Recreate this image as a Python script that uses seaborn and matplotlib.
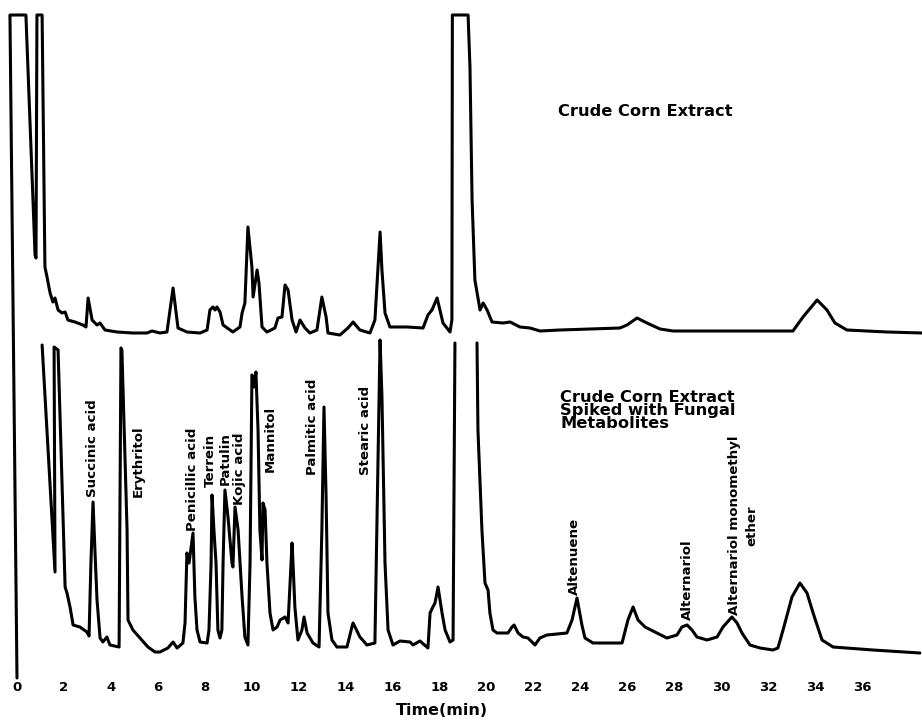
import numpy as np
import pandas as pd
import matplotlib
matplotlib.use("Agg")
import matplotlib.pyplot as plt
import seaborn as sns

# Retention time (min) and detector response (arbitrary units, above each trace's baseline)
# Crude corn extract
top_time = [0.00, -0.30, 0.38, 0.77, 0.81, 0.85, 1.07, 1.19, 1.28, 1.41, 1.53, 1.62, 1.75,
            1.92, 2.05, 2.17, 2.47, 2.81, 2.94, 3.03, 3.20, 3.41, 3.54, 3.75, 4.26, 4.94,
            5.54, 5.75, 6.09, 6.39, 6.65, 6.86, 7.24, 7.80, 8.10, 8.22, 8.35, 8.44, 8.52,
            8.65, 8.78, 9.20, 9.50, 9.59, 9.71, 9.84, 10.01, 10.06, 10.23, 10.31, 10.44,
            10.65, 10.99, 11.12, 11.29, 11.42, 11.55, 11.72, 11.89, 12.06, 12.27, 12.48,
            12.78, 12.99, 13.17, 13.25, 13.76, 14.10, 14.32, 14.61, 15.04, 15.25, 15.47,
            15.55, 15.68, 15.89, 16.62, 17.30, 17.51, 17.68, 17.90, 18.02, 18.15, 18.45,
            18.53, 18.55, 19.22, 19.30, 19.39, 19.51, 19.73, 19.86, 20.03, 20.24, 20.71,
            21.01, 21.43, 21.86, 22.28, 23.14, 25.69, 25.99, 26.42, 26.84, 27.40, 27.95,
            29.95, 33.06, 33.49, 34.09, 34.51, 34.85, 35.36, 37.07, 38.56]
top_resp = [-345, 318, 318, 78, 75, 318, 318, 66, 56, 40, 31, 35, 23,
            20, 21, 13, 11, 8, 6, 35, 13, 8, 10, 3, 1, 0,
            0, 2, 0, 1, 45, 5, 1, 0, 3, 23, 26, 23, 26,
            21, 8, 1, 6, 20, 30, 106, 66, 36, 63, 50, 6,
            1, 5, 15, 16, 48, 43, 13, 1, 13, 5, 0,
            3, 36, 16, 0, -2, 5, 11, 3, 0, 13, 101,
            63, 20, 6, 6, 5, 18, 23, 35, 23, 10, 1,
            13, 318, 318, 266, 133, 53, 23, 30, 23, 11, 10,
            11, 6, 5, 2, 3, 5, 8, 15, 10, 4, 2,
            2, 2, 16, 33, 23, 10, 3, 1, 0]

# Crude corn extract spiked with fungal metabolites (pen off scale during the solvent peak)
spiked_time_a = [1.07, 1.62, 1.58, 1.75, 2.05, 2.13, 2.26, 2.39, 2.68, 2.98, 3.07, 3.15,
                 3.24, 3.32, 3.41, 3.54, 3.66, 3.83, 3.96, 4.35, 4.43, 4.47, 4.69, 4.73,
                 4.94, 5.24, 5.58, 5.88, 6.09, 6.43, 6.65, 6.82, 7.07, 7.16, 7.24, 7.33,
                 7.50, 7.58, 7.67, 7.80, 8.10, 8.18, 8.27, 8.31, 8.39, 8.48, 8.56, 8.65,
                 8.73, 8.78, 8.86, 8.99, 9.16, 9.20, 9.29, 9.42, 9.59, 9.71, 9.84, 9.93,
                 10.01, 10.06, 10.10, 10.18, 10.27, 10.35, 10.44, 10.48, 10.57, 10.65,
                 10.78, 10.91, 11.08, 11.21, 11.42, 11.55, 11.72, 11.76, 11.84, 11.97,
                 12.14, 12.23, 12.36, 12.61, 12.87, 12.99, 13.08, 13.17, 13.25, 13.42,
                 13.63, 14.06, 14.27, 14.32, 14.61, 14.91, 15.25, 15.38, 15.47, 15.55,
                 15.68, 15.81, 16.02, 16.32, 16.75, 16.87, 17.17, 17.51, 17.60, 17.72,
                 17.81, 17.94, 18.11, 18.24, 18.45, 18.58, 18.66]
spiked_resp_a = [305, 78, 303, 300, 63, 57, 43, 25, 23, 18, 14, 87,
                 148, 100, 50, 12, 8, 13, 5, 3, 302, 300, 120, 30,
                 20, 12, 3, -2, -2, 2, 8, 2, 7, 27, 97, 87,
                 117, 53, 20, 8, 7, 20, 87, 155, 120, 87, 20, 12,
                 20, 87, 160, 133, 87, 83, 143, 120, 53, 13, 5, 87,
                 275, 273, 263, 278, 220, 120, 90, 147, 140, 87,
                 37, 20, 23, 30, 33, 27, 107, 87, 43, 10,
                 20, 33, 17, 7, 3, 120, 243, 153, 37, 10,
                 3, 3, 23, 27, 13, 5, 7, 187, 310, 253,
                 87, 20, 5, 9, 8, 5, 9, 2, 37, 43,
                 47, 63, 37, 20, 8, 10, 307]
spiked_time_b = [19.60, 19.64, 19.81, 19.94, 20.07, 20.15, 20.28, 20.45, 20.92, 21.09,
                 21.18, 21.35, 21.56, 21.77, 22.07, 22.28, 22.58, 23.43, 23.65, 23.86,
                 24.07, 24.20, 24.54, 25.78, 26.03, 26.25, 26.46, 26.76, 27.18, 27.69,
                 28.12, 28.33, 28.55, 28.76, 28.97, 29.40, 29.83, 30.08, 30.46, 30.68,
                 30.89, 31.23, 31.66, 32.21, 32.42, 32.64, 33.02, 33.36, 33.66, 33.92,
                 34.30, 34.77, 36.47, 38.47]
spiked_resp_b = [307, 220, 120, 67, 60, 37, 20, 17, 17, 23,
                 25, 17, 13, 12, 5, 12, 15, 17, 30, 52,
                 25, 12, 7, 7, 30, 43, 30, 23, 18, 12,
                 15, 23, 25, 20, 13, 10, 13, 23, 33, 27,
                 17, 5, 2, 0, 2, 20, 53, 67, 57, 37,
                 10, 3, 0, -3]

compound_names = ["Succinic acid", "Erythritol", "Penicillic acid", "Terrein", "Patulin",
                  "Kojic acid", "Mannitol", "Palmitic acid", "Stearic acid", "Altenuene",
                  "Alternariol", "Alternariol monomethyl\nether"]
compound_times = [3.20, 5.16, 7.46, 8.22, 8.86, 9.50, 10.78, 12.57, 14.87, 23.77, 28.55, 30.93]
label_base = [153, 153, 119, 163, 165, 145, 178, 175, 175, 55, 30, 35]

time_ticks = list(range(0, 37, 2))

# trace offsets on the recorder chart
top_offset = 339
spiked_offset = 22

df = pd.concat([
    pd.DataFrame({"time": top_time, "y": np.array(top_resp) + top_offset, "seg": "top"}),
    pd.DataFrame({"time": spiked_time_a, "y": np.array(spiked_resp_a) + spiked_offset, "seg": "spiked_a"}),
    pd.DataFrame({"time": spiked_time_b, "y": np.array(spiked_resp_b) + spiked_offset, "seg": "spiked_b"}),
], ignore_index=True)

sns.set_style("white", {"text.color": "black", "axes.labelcolor": "black",
                        "xtick.color": "black"})
plt.rcParams['font.family'] = ['DejaVu Sans']

fig = plt.figure(figsize=(9.22, 7.22), dpi=100)
ax = fig.add_axes([0, 50 / 722, 1, 672 / 722])

sns.lineplot(data=df, x="time", y="y", units="seg", estimator=None, sort=False,
             color="black", linewidth=2.2, ax=ax, legend=False)
for ln in ax.lines:
    ln.set_clip_on(False)
    ln.set_solid_joinstyle("round")
    ln.set_solid_capstyle("round")

ax.set_xlim(-0.724, 38.56)
ax.set_ylim(0, 672)
sns.despine(ax=ax, left=True, bottom=True)
ax.set_yticks([])
ax.set_xticks(time_ticks)
ax.set_xticklabels([str(t) for t in time_ticks], fontsize=9.5, fontweight="bold")
ax.tick_params(axis="x", direction="out", length=4.3, width=1.4, pad=2.5, color="black")
ax.set_ylabel("")
ax.set_xlabel("Time(min)", fontsize=11.5, fontweight="bold")
ax.xaxis.set_label_coords(442 / 922, -0.046)

for name, t, yb in zip(compound_names, compound_times, label_base):
    ax.text(t, yb + spiked_offset, name, rotation=90, ha="center", va="bottom",
            fontsize=9.6, fontweight="bold", multialignment="center", linespacing=1.4)

ax.text(23.05, 560, "Crude Corn Extract", fontsize=11.7, fontweight="bold", va="center", ha="left")
ax.text(23.14, 282, "Crude Corn Extract\nSpiked with Fungal\nMetabolites", fontsize=11.7,
        fontweight="bold", va="top", ha="left", linespacing=0.85)

fig.savefig("out.png", dpi=100)
